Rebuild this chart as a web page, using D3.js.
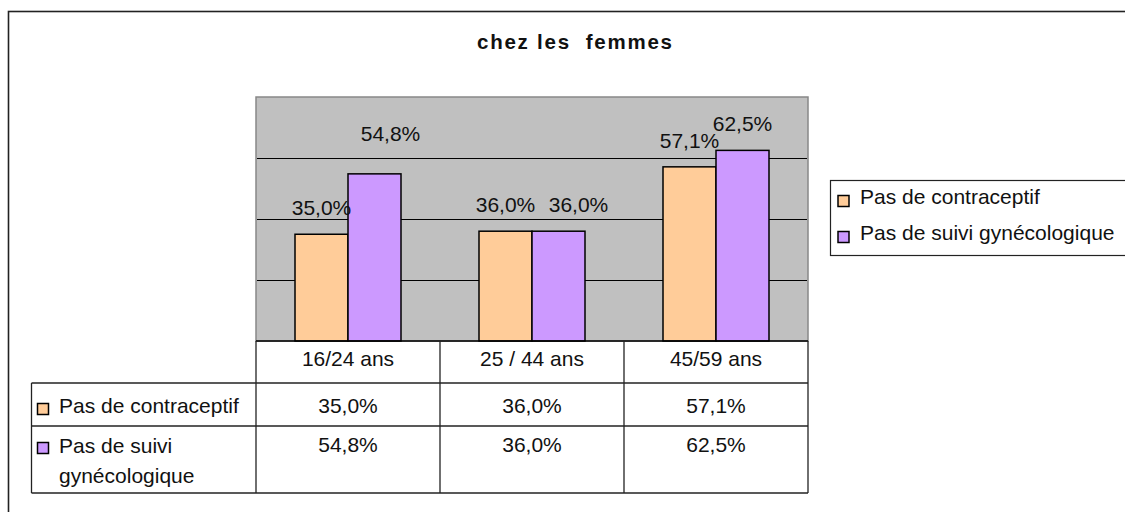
<!DOCTYPE html>
<html>
<head>
<meta charset="utf-8">
<script src="https://cdn.jsdelivr.net/npm/d3@7"></script>
<style>
  html, body { margin: 0; padding: 0; background: #fff; }
  svg { display: block; font-family: "Liberation Sans", Arial, sans-serif; }
  .title { white-space: pre; }
</style>
</head>
<body>
<svg id="chart" width="1125" height="512"></svg>
<script>
// ---- data ----
const title = "chez les  femmes";
const categories = ["16/24 ans", "25 / 44 ans", "45/59 ans"];
const seriesNames = ["Pas de contraceptif", "Pas de suivi gynécologique"];
const tableRowLabels = [["Pas de contraceptif"], ["Pas de suivi", "gynécologique"]];
const contraceptif = [35.0, 36.0, 57.1];
const suiviGyneco = [54.8, 36.0, 62.5];
const yTicks = [0, 20, 40, 60, 80];

// ---- style / layout config ----
const colors = ["#FFCC99", "#CC99FF"];
const fontSize = 21;
const fmt = v => v.toFixed(1).replace(".", ",") + "%";
// label nudges (dx, dy) keyed by "catIndex-seriesIndex" to mimic the original placement
const labelNudge = { "0-1": [16, -14], "1-1": [20, 0] };

const svg = d3.select("#chart");
const plot = { left: 256, right: 808, top: 97, bottom: 341 };
const table = { left: 31.5, headerBottom: 383, row1Bottom: 426, bottom: 493 };

// outer frame (runs off right and bottom)
svg.append("rect").attr("x", 8.5).attr("y", 11.5).attr("width", 1200).attr("height", 600)
  .attr("fill", "none").attr("stroke", "#222").attr("stroke-width", 1.6);

// title
svg.append("text").attr("class", "title").attr("x", 477).attr("y", 48.5)
  .attr("font-weight", "bold").attr("font-size", 20.5).attr("xml:space", "preserve")
  .attr("textLength", 195).attr("lengthAdjust", "spacing")
  .attr("fill", "#111").text(title);

// scales
const x = d3.scaleBand().domain(categories).range([plot.left, plot.right]).padding(0);
const inner = d3.scaleBand().domain(d3.range(seriesNames.length))
  .range([39, x.bandwidth() - 39]).padding(0);
const y = d3.scaleLinear().domain([0, 80]).range([plot.bottom, plot.top]);

// plot background
svg.append("rect").attr("x", plot.left).attr("y", plot.top)
  .attr("width", plot.right - plot.left).attr("height", plot.bottom - plot.top)
  .attr("fill", "#C0C0C0").attr("stroke", "#888").attr("stroke-width", 1.5);

// gridlines
svg.append("g").selectAll("line").data(yTicks.slice(1, -1)).join("line")
  .attr("x1", plot.left + 1).attr("x2", plot.right - 1)
  .attr("y1", d => Math.round(y(d)) + 0.5).attr("y2", d => Math.round(y(d)) + 0.5)
  .attr("stroke", "#000").attr("stroke-width", 1);

// bars
const series = [contraceptif, suiviGyneco];
const barData = [];
categories.forEach((c, i) => series.forEach((s, j) => barData.push({ c, i, j, v: s[i] })));

svg.append("g").selectAll("rect").data(barData).join("rect")
  .attr("x", d => x(d.c) + inner(d.j))
  .attr("y", d => y(d.v))
  .attr("width", inner.bandwidth())
  .attr("height", d => y(0) - y(d.v))
  .attr("fill", d => colors[d.j]).attr("stroke", "#000").attr("stroke-width", 1.5);

// value labels
svg.append("g").selectAll("text").data(barData).join("text")
  .attr("x", d => x(d.c) + inner(d.j) + inner.bandwidth() / 2 + ((labelNudge[d.i + "-" + d.j] || [0, 0])[0]))
  .attr("y", d => y(d.v) - 19 + ((labelNudge[d.i + "-" + d.j] || [0, 0])[1]))
  .attr("text-anchor", "middle").attr("font-size", fontSize).attr("fill", "#111")
  .text(d => fmt(d.v));

// category axis line
svg.append("line").attr("x1", plot.left).attr("x2", plot.right)
  .attr("y1", plot.bottom).attr("y2", plot.bottom).attr("stroke", "#000").attr("stroke-width", 1.5);

// ---- data table ----
const tg = svg.append("g");
const lineStyle = sel => sel.attr("stroke", "#222").attr("stroke-width", 1.3);
// horizontal lines
[table.headerBottom, table.row1Bottom, table.bottom].forEach(yy => {
  tg.append("line").attr("x1", table.left).attr("x2", plot.right)
    .attr("y1", yy).attr("y2", yy).call(lineStyle);
});
// vertical lines
tg.append("line").attr("x1", table.left).attr("x2", table.left)
  .attr("y1", table.headerBottom).attr("y2", table.bottom).call(lineStyle);
const vx = categories.map(c => x(c)).concat([x(categories[categories.length - 1]) + x.bandwidth()]);
tg.selectAll("line.v").data(vx).join("line").attr("class", "v")
  .attr("x1", d => d).attr("x2", d => d)
  .attr("y1", plot.bottom).attr("y2", table.bottom).call(lineStyle);

// header labels
tg.selectAll("text.cat").data(categories).join("text").attr("class", "cat")
  .attr("x", d => x(d) + x.bandwidth() / 2).attr("y", 366)
  .attr("text-anchor", "middle").attr("font-size", fontSize).attr("fill", "#111").text(d => d);

// row values
const rowBaselines = [413, 452];
series.forEach((s, j) => {
  tg.selectAll("text.val" + j).data(s).join("text").attr("class", "val" + j)
    .attr("x", (d, i) => x(categories[i]) + x.bandwidth() / 2).attr("y", rowBaselines[j])
    .attr("text-anchor", "middle").attr("font-size", fontSize).attr("fill", "#111").text(d => fmt(d));
});

// row headers with keys
const rowKeyY = [403.5, 442.5];
tableRowLabels.forEach((lines, j) => {
  tg.append("rect").attr("x", 37.5).attr("y", rowKeyY[j]).attr("width", 11).attr("height", 11)
    .attr("fill", colors[j]).attr("stroke", "#000").attr("stroke-width", 1.5);
  lines.forEach((t, k) => {
    tg.append("text").attr("x", 59).attr("y", rowBaselines[j] + (j === 1 ? 1 : 0) + k * 30)
      .attr("font-size", fontSize).attr("fill", "#111").text(t);
  });
});

// ---- legend ----
const lg = svg.append("g");
lg.append("rect").attr("x", 830.5).attr("y", 180.5).attr("width", 300).attr("height", 75)
  .attr("fill", "#fff").attr("stroke", "#222").attr("stroke-width", 1.2);
const legY = [204, 240];
seriesNames.forEach((n, j) => {
  lg.append("rect").attr("x", 838).attr("y", legY[j] - 8.5).attr("width", 11).attr("height", 11)
    .attr("fill", colors[j]).attr("stroke", "#000").attr("stroke-width", 1.5);
  lg.append("text").attr("x", 860).attr("y", legY[j]).attr("font-size", fontSize)
    .attr("fill", "#111").text(n);
});
</script>
</body>
</html>
